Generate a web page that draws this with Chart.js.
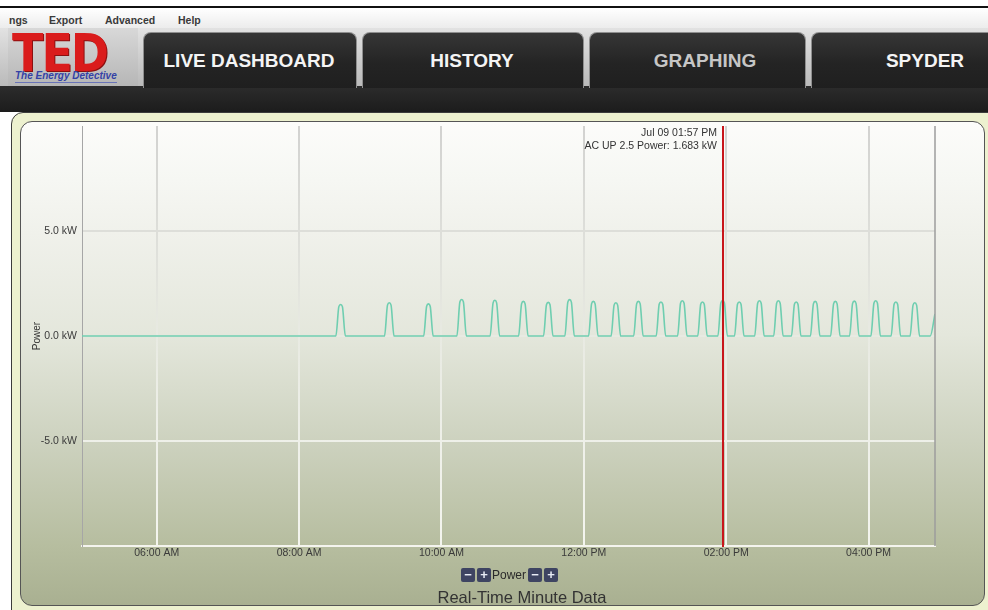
<!DOCTYPE html>
<html><head><meta charset="utf-8">
<script src="https://cdn.jsdelivr.net/npm/chart.js@4.4.1/dist/chart.umd.min.js"></script>
<style>
html,body{margin:0;padding:0;}
body{width:988px;height:610px;overflow:hidden;position:relative;background:#fff;font-family:"Liberation Sans",Arial,sans-serif;}
.abs{position:absolute;}
#topline{left:0;top:6px;width:988px;height:2px;background:#111;}
#menu{left:0;top:8px;width:988px;height:20px;background:linear-gradient(#ffffff,#ececec);}
.mi{position:absolute;top:13px;font-size:10.5px;font-weight:bold;color:#3a3a3a;line-height:14px;white-space:nowrap;}
#tabbar{left:0;top:28px;width:988px;height:58px;background:linear-gradient(#e2e2e2,#bababa);}
#logo{left:8px;top:28px;width:130px;height:58px;background:linear-gradient(#d8d8d8,#b6b6b6);}
#ted{left:12px;top:24px;font-family:"DejaVu Sans","Liberation Sans",sans-serif;font-size:46px;font-weight:bold;color:#da1c1c;line-height:52px;letter-spacing:-2px;text-shadow:1px 1px 0 #8a1010;transform:scaleY(1.12);transform-origin:top left;}
#tedsub{left:15px;top:70px;font-size:10px;font-style:italic;font-weight:bold;color:#3442a6;line-height:12px;border-bottom:1px solid #6a74b8;white-space:nowrap;}
#band{left:0;top:86px;width:988px;height:26px;background:linear-gradient(#2c2c2c,#1c1c1c);}
.tab{position:absolute;top:32px;height:56px;border:1px solid #8f8f8f;border-bottom:none;border-radius:8px 8px 0 0;background:linear-gradient(#363636,#242424 55%,#1f1f1f);box-sizing:border-box;}
.tl{position:absolute;top:50px;transform:translateX(-50%);font-size:19px;font-weight:bold;color:#f4f4f4;line-height:22px;white-space:nowrap;}
#card{left:11px;top:112px;width:980px;height:505px;background:#edf1cf;border:1px solid #3c3c3c;border-radius:12px 0 0 0;box-sizing:border-box;}
#inner{left:20px;top:121px;width:965px;height:485px;border:1px solid #555;border-radius:12px;box-sizing:border-box;
 background:linear-gradient(to bottom,#fcfcfa 0%,#f6f7f3 12%,#f0f1eb 23%,#e4e7dc 44%,#cdd2bf 66%,#b6bd9f 88%,#a9b091 100%);}
#cv{position:absolute;left:0;top:112px;}
.btn{position:absolute;top:568px;width:14px;height:14px;background:#3e4462;border-radius:2px;color:#e8ecf6;font-size:13px;font-weight:bold;line-height:14px;text-align:center;}
#lg{position:absolute;left:492px;top:567px;font-size:12px;color:#2a2a2a;line-height:16px;}
#ttl{position:absolute;left:522px;top:587px;transform:translateX(-50%);font-size:16.5px;color:#333;line-height:20px;white-space:nowrap;}
</style></head>
<body>
<div id="topline" class="abs"></div>
<div id="menu" class="abs"></div>
<span class="mi" style="left:9px">ngs</span>
<span class="mi" style="left:49px">Export</span>
<span class="mi" style="left:105px">Advanced</span>
<span class="mi" style="left:178px">Help</span>
<div id="tabbar" class="abs"></div>
<div id="logo" class="abs"></div>
<div id="ted" class="abs">TED</div>
<div id="tedsub" class="abs">The Energy Detective</div>
<div id="band" class="abs"></div>
<div class="tab" style="left:143px;width:214px"></div>
<div class="tab" style="left:362px;width:222px"></div>
<div class="tab" style="left:589px;width:217px"></div>
<div class="tab" style="left:811px;width:200px"></div>
<div class="tl" style="left:249px">LIVE DASHBOARD</div>
<div class="tl" style="left:472px">HISTORY</div>
<div class="tl" style="left:705px;color:#c6c6c6">GRAPHING</div>
<div class="tl" style="left:925px">SPYDER</div>
<div id="card" class="abs"></div>
<div id="inner" class="abs"></div>
<canvas id="cv" width="988" height="456"></canvas>
<div class="btn" style="left:461px">−</div>
<div class="btn" style="left:477px">+</div>
<div id="lg">Power</div>
<div class="btn" style="left:528px">−</div>
<div class="btn" style="left:544px">+</div>
<div id="ttl">Real-Time Minute Data</div>
<script>
// ---- data ----
const xMinMinute = 297;   // 04:57 AM
const xMaxMinute = 1016;  // 04:56 PM
const xTickMinutes = [360, 480, 600, 720, 840, 960];
const xTickLabels = ['06:00 AM', '08:00 AM', '10:00 AM', '12:00 PM', '02:00 PM', '04:00 PM'];
const yMin = -10, yMax = 10;
const yTickValues = [-5, 0, 5];
const yTickLabels = ['-5.0 kW', '0.0 kW', '5.0 kW'];
const seriesName = 'Power';
const cursorMinute = 837; // 01:57 PM
const cursorLines = ['Jul 09 01:57 PM', 'AC UP 2.5 Power: 1.683 kW'];

// minute of day (from midnight) and power readings
const minuteOfDay = [297,
 511,513.5,515,516.5,519,
 552,554.5,556,557.5,560,
 585,587.5,589,590.5,593,
 613,615.5,617,618.5,621,
 641,643.5,645,646.5,649,
 665,667.5,669,670.5,673,
 686,688.5,690,691.5,694,
 704,706.5,708,709.5,712,
 724,726.5,728,729.5,732,
 743,745.5,747,748.5,751,
 762,764.5,766,767.5,770,
 781,783.5,785,786.5,789,
 799,801.5,803,804.5,807,
 816,818.5,820,821.5,824,
 833,835.5,837,838.5,841,
 847,849.5,851,852.5,855,
 864,866.5,868,869.5,872,
 880,882.5,884,885.5,888,
 895,897.5,899,900.5,903,
 911,913.5,915,916.5,919,
 928,930.5,932,933.5,936,
 944,946.5,948,949.5,952,
 962,964.5,966,967.5,970,
 979,981.5,983,984.5,987,
 995,997.5,999,1000.5,1003,
 1012,1016];
const powerKW = [0,
 0,1.40,1.50,1.40,0,
 0,1.47,1.58,1.47,0,
 0,1.42,1.53,1.42,0,
 0,1.62,1.74,1.62,0,
 0,1.58,1.70,1.58,0,
 0,1.53,1.65,1.53,0,
 0,1.49,1.60,1.49,0,
 0,1.61,1.73,1.61,0,
 0,1.53,1.65,1.53,0,
 0,1.47,1.58,1.47,0,
 0,1.53,1.65,1.53,0,
 0,1.51,1.62,1.51,0,
 0,1.56,1.68,1.56,0,
 0,1.51,1.62,1.51,0,
 0,1.57,1.683,1.57,0,
 0,1.51,1.62,1.51,0,
 0,1.56,1.68,1.56,0,
 0,1.56,1.68,1.56,0,
 0,1.51,1.62,1.51,0,
 0,1.53,1.65,1.53,0,
 0,1.53,1.65,1.53,0,
 0,1.54,1.66,1.54,0,
 0,1.56,1.68,1.56,0,
 0,1.51,1.62,1.51,0,
 0,1.47,1.58,1.47,0,
 0,1.05];

// ---- chart ----
const FONT = '"Liberation Sans", Arial, sans-serif';
function gridColor(c) {
  const chart = c.chart, a = chart.chartArea;
  if (!a) return 'rgba(0,0,0,0)';
  if (!chart.$gg) {
    const g = chart.ctx.createLinearGradient(0, a.top, 0, a.bottom);
    g.addColorStop(0, '#d2d2d0');
    g.addColorStop(0.5, '#e8eae2');
    g.addColorStop(1, '#f4f5ef');
    chart.$gg = g;
  }
  return chart.$gg;
}
const cursorPlugin = {
  id: 'cursor',
  afterDatasetsDraw(chart) {
    const {ctx, chartArea: a, scales: {x}} = chart;
    ctx.save();
    ctx.strokeStyle = '#9c9c9c'; ctx.lineWidth = 1.5;
    ctx.beginPath(); ctx.moveTo(a.right, a.top); ctx.lineTo(a.right, a.bottom); ctx.stroke();
    const px = Math.round(x.getPixelForValue(cursorMinute));
    ctx.strokeStyle = '#c8161b'; ctx.lineWidth = 2;
    ctx.beginPath(); ctx.moveTo(px, a.top); ctx.lineTo(px, a.bottom + 1); ctx.stroke();
    ctx.font = '10.5px ' + FONT; ctx.fillStyle = '#333'; ctx.textAlign = 'right'; ctx.textBaseline = 'middle';
    ctx.fillText(cursorLines[0], px - 6, a.top + 7);
    ctx.fillText(cursorLines[1], px - 6, a.top + 20);
    ctx.restore();
  }
};
new Chart(document.getElementById('cv'), {
  type: 'line',
  data: {
    datasets: [{
      label: seriesName,
      data: minuteOfDay.map((m, i) => ({x: m, y: powerKW[i]})),
      borderColor: '#6fceb0', borderWidth: 1.6, pointRadius: 0, fill: false,
      cubicInterpolationMode: 'monotone'
    }]
  },
  options: {
    responsive: false, animation: false, devicePixelRatio: 1,
    layout: {padding: {left: 31, right: 53, top: 14, bottom: 0}},
    plugins: {legend: {display: false}, tooltip: {enabled: false}},
    scales: {
      x: {
        type: 'linear', min: xMinMinute, max: xMaxMinute,
        afterBuildTicks: s => { s.ticks = xTickMinutes.map(v => ({value: v})); },
        afterFit: s => { s.height = 22; },
        ticks: {callback: (v, i) => xTickLabels[i], padding: 1, maxRotation: 0, autoSkip: false,
                font: {family: FONT, size: 10.5}, color: '#3a3a3a'},
        grid: {drawTicks: false, color: gridColor, lineWidth: 2},
        border: {color: '#f4f4ee', width: 2}
      },
      y: {
        min: yMin, max: yMax,
        afterBuildTicks: s => { s.ticks = yTickValues.map(v => ({value: v})); },
        afterFit: s => { s.width = 51; },
        ticks: {callback: (v, i) => yTickLabels[i], padding: 5,
                font: {family: FONT, size: 10.5}, color: '#3a3a3a'},
        title: {display: true, text: seriesName, padding: 0, font: {family: FONT, size: 10}, color: '#333'},
        grid: {drawTicks: false, color: gridColor, lineWidth: 2},
        border: {color: '#a6a6a6', width: 1}
      }
    }
  },
  plugins: [cursorPlugin]
});
</script>
</body></html>
